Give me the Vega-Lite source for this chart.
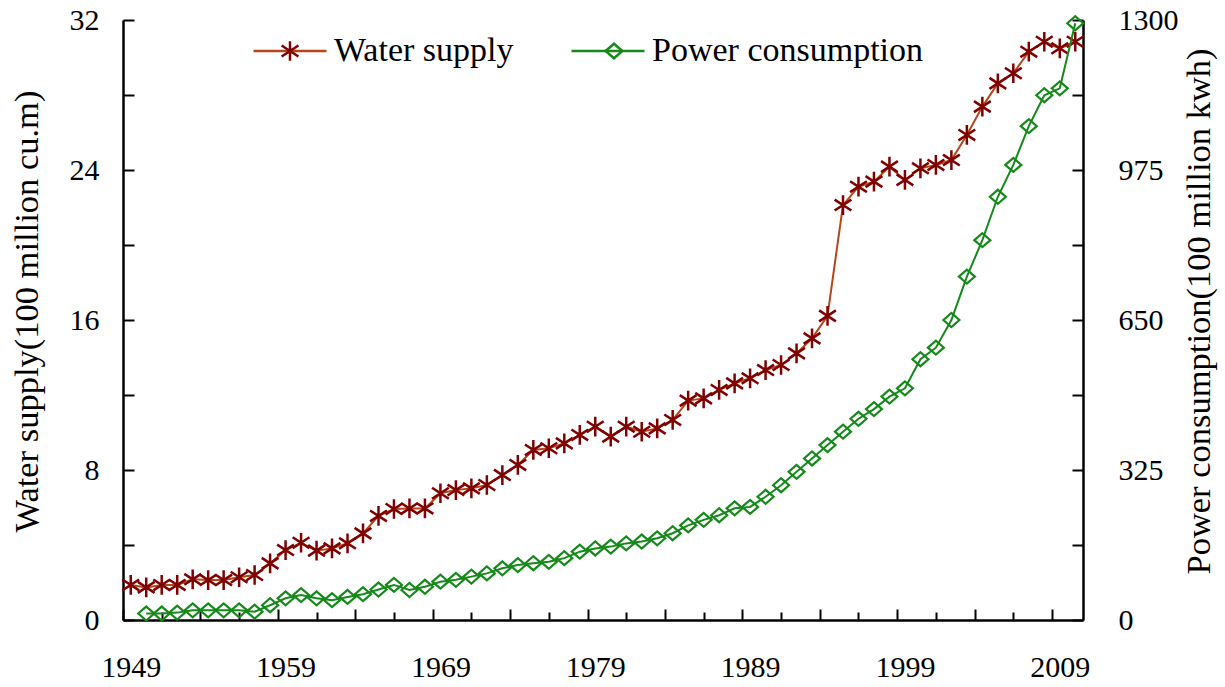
{
"$schema": "https://vega.github.io/schema/vega-lite/v6.json",
"width": 960, "height": 600,
"autosize": {"type": "none"},
"padding": {"left": 123, "top": 20, "right": 142, "bottom": 67},
"background": "white",
"config": {
  "view": {"stroke": null},
  "font": "Liberation Serif",
  "axis": {"grid": false, "labelFont": "Liberation Serif", "titleFont": "Liberation Serif", "labelColor": "black", "titleColor": "black", "titleFontWeight": "normal", "domainColor": "black", "tickColor": "black", "domainWidth": 2.5, "tickWidth": 2, "labelOverlap": false, "labelFlush": false, "labelBound": false},
  "legend": {"labelFont": "Liberation Serif", "labelColor": "black"}
},
"datasets": {
  "water": [
    {"year":1949,"value":1.87},{"year":1950,"value":1.74},{"year":1951,"value":1.87},{"year":1952,"value":1.87},{"year":1953,"value":2.17},{"year":1954,"value":2.13},{"year":1955,"value":2.13},{"year":1956,"value":2.28},{"year":1957,"value":2.4},{"year":1958,"value":3.02},
    {"year":1959,"value":3.73},{"year":1960,"value":4.12},{"year":1961,"value":3.7},{"year":1962,"value":3.82},{"year":1963,"value":4.09},{"year":1964,"value":4.62},{"year":1965,"value":5.55},{"year":1966,"value":5.92},{"year":1967,"value":5.95},{"year":1968,"value":5.95},
    {"year":1969,"value":6.76},{"year":1970,"value":6.93},{"year":1971,"value":7.02},{"year":1972,"value":7.2},{"year":1973,"value":7.73},{"year":1974,"value":8.27},{"year":1975,"value":9.07},{"year":1976,"value":9.16},{"year":1977,"value":9.42},{"year":1978,"value":9.87},
    {"year":1979,"value":10.31},{"year":1980,"value":9.78},{"year":1981,"value":10.31},{"year":1982,"value":10.04},{"year":1983,"value":10.22},{"year":1984,"value":10.67},{"year":1985,"value":11.7},{"year":1986,"value":11.82},{"year":1987,"value":12.27},{"year":1988,"value":12.62},
    {"year":1989,"value":12.89},{"year":1990,"value":13.33},{"year":1991,"value":13.6},{"year":1992,"value":14.22},{"year":1993,"value":15.02},{"year":1994,"value":16.22},{"year":1995,"value":22.13},{"year":1996,"value":23.11},{"year":1997,"value":23.38},{"year":1998,"value":24.18},
    {"year":1999,"value":23.47},{"year":2000,"value":24.09},{"year":2001,"value":24.27},{"year":2002,"value":24.53},{"year":2003,"value":25.87},{"year":2004,"value":27.38},{"year":2005,"value":28.62},{"year":2006,"value":29.16},{"year":2007,"value":30.31},{"year":2008,"value":30.84},
    {"year":2009,"value":30.49},{"year":2010,"value":30.84}
  ],
  "power": [
    {"year":1950,"value":14},{"year":1951,"value":14},{"year":1952,"value":16},{"year":1953,"value":21},{"year":1954,"value":21},{"year":1955,"value":21},{"year":1956,"value":21},{"year":1957,"value":18},{"year":1958,"value":32},
    {"year":1959,"value":47},{"year":1960,"value":54},{"year":1961,"value":47},{"year":1962,"value":43},{"year":1963,"value":50},{"year":1964,"value":56},{"year":1965,"value":66},{"year":1966,"value":76},{"year":1967,"value":65},{"year":1968,"value":72},
    {"year":1969,"value":83},{"year":1970,"value":87},{"year":1971,"value":94},{"year":1972,"value":101},{"year":1973,"value":112},{"year":1974,"value":119},{"year":1975,"value":123},{"year":1976,"value":126},{"year":1977,"value":134},{"year":1978,"value":148},
    {"year":1979,"value":155},{"year":1980,"value":159},{"year":1981,"value":166},{"year":1982,"value":170},{"year":1983,"value":177},{"year":1984,"value":188},{"year":1985,"value":205},{"year":1986,"value":217},{"year":1987,"value":227},{"year":1988,"value":242},
    {"year":1989,"value":245},{"year":1990,"value":267},{"year":1991,"value":292},{"year":1992,"value":321},{"year":1993,"value":350},{"year":1994,"value":379},{"year":1995,"value":408},{"year":1996,"value":436},{"year":1997,"value":457},{"year":1998,"value":484},
    {"year":1999,"value":502},{"year":2000,"value":565},{"year":2001,"value":590},{"year":2002,"value":650},{"year":2003,"value":744},{"year":2004,"value":823},{"year":2005,"value":917},{"year":2006,"value":986},{"year":2007,"value":1070},{"year":2008,"value":1137},
    {"year":2009,"value":1152},{"year":2010,"value":1293}
  ]
},
"encoding": {
  "x": {"field": "year", "type": "quantitative",
    "scale": {"domain": [1948.5, 2010.5], "nice": false, "zero": false},
    "axis": {
      "values": [1948.5,1951,1953.5,1956,1958.5,1961,1963.5,1966,1968.5,1971,1973.5,1976,1978.5,1981,1983.5,1986,1988.5,1991,1993.5,1996,1998.5,2001,2003.5,2006,2008.5],
      "labelExpr": "(datum.value - 1948.5) % 10 === 0 ? format(datum.value + 0.5, 'd') : ''",
      "tickSize": {"condition": {"test": "(datum.value - 1948.5) % 5 === 0", "value": -11}, "value": -8},
      "labelPadding": 43, "labelOffset": 7.75, "labelFontSize": 30, "title": null
    }
  }
},
"layer": [
  {
    "data": {"name": "water"},
    "encoding": {
      "y": {"field": "value", "type": "quantitative", "scale": {"domain": [0, 32], "nice": false},
        "axis": {"values": [0,4,8,12,16,20,24,28,32], "labelExpr": "datum.value % 8 === 0 ? datum.label : ''", "tickSize": -11, "labelPadding": 35, "labelFontSize": 30,
          "title": "Water supply(100 million cu.m)", "titleFontSize": 34.5, "titlePadding": 25, "titleY": 291}}
    },
    "layer": [
      {"mark": {"type": "line", "strokeWidth": 2},
       "encoding": {"color": {"datum": "Water supply", "type": "nominal",
         "scale": {"domain": ["Water supply", "Power consumption"], "range": ["#B5461A", "#15891A"]},
         "legend": {"orient": "none", "legendX": 129, "legendY": -7, "direction": "horizontal", "title": null, "symbolType": "M-1,0H1", "symbolSize": 5329, "symbolStrokeWidth": 2.5, "labelFontSize": 34, "labelOffset": 6, "labelLimit": 600, "columnPadding": 52, "padding": 0}}}},
      {"mark": {"type": "point", "size": 5329, "strokeWidth": 2.5, "filled": false, "opacity": 1},
       "encoding": {
         "stroke": {"datum": "water", "type": "nominal",
           "scale": {"domain": ["water", "power"], "range": ["#800000", "#15891A"]},
           "legend": {"orient": "none", "legendX": 129, "legendY": -7, "direction": "horizontal", "title": null, "symbolSize": 5329, "symbolStrokeWidth": 2.5, "labelFontSize": 34, "labelOffset": 6, "labelLimit": 600, "columnPadding": 242, "padding": 0,
             "labelExpr": "''"}},
         "shape": {"datum": "water", "type": "nominal",
           "scale": {"domain": ["water", "power"], "range": ["M0,-0.27V0.27M-0.23,-0.15L0.23,0.15M-0.23,0.15L0.23,-0.15", "M-0.23,0L0,-0.2L0.23,0L0,0.2Z"]},
           "legend": {"orient": "none", "legendX": 129, "legendY": -7, "direction": "horizontal", "title": null, "symbolSize": 5329, "symbolStrokeWidth": 2.5, "labelFontSize": 34, "labelOffset": 6, "labelLimit": 600, "columnPadding": 242, "padding": 0,
             "labelExpr": "''"}}
       }}
    ]
  },
  {
    "data": {"name": "power"},
    "encoding": {
      "y": {"field": "value", "type": "quantitative", "scale": {"domain": [0, 1300], "nice": false},
        "axis": {"orient": "right", "values": [0,162.5,325,487.5,650,812.5,975,1137.5,1300], "format": "d", "labelExpr": "datum.value % 325 === 0 ? datum.label : ''", "tickSize": -11, "labelPadding": 46, "labelFontSize": 30,
          "title": "Power consumption(100 million kwh)", "titleFontSize": 34.5, "titleAngle": 270, "titleBaseline": "top", "titlePadding": 4, "titleY": 291}}
    },
    "layer": [
      {"mark": {"type": "line", "strokeWidth": 2},
       "encoding": {"color": {"datum": "Power consumption", "type": "nominal",
         "scale": {"domain": ["Water supply", "Power consumption"], "range": ["#B5461A", "#15891A"]},
         "legend": {"orient": "none", "legendX": 129, "legendY": -7, "direction": "horizontal", "title": null, "symbolType": "M-1,0H1", "symbolSize": 5329, "symbolStrokeWidth": 2.5, "labelFontSize": 34, "labelOffset": 6, "labelLimit": 600, "columnPadding": 52, "padding": 0}}}},
      {"mark": {"type": "point", "size": 4840, "strokeWidth": 2.2, "filled": false, "opacity": 1},
       "encoding": {
         "stroke": {"datum": "power", "type": "nominal",
           "scale": {"domain": ["water", "power"], "range": ["#800000", "#15891A"]},
           "legend": {"orient": "none", "legendX": 129, "legendY": -7, "direction": "horizontal", "title": null, "symbolSize": 5329, "symbolStrokeWidth": 2.5, "labelFontSize": 34, "labelOffset": 6, "labelLimit": 600, "columnPadding": 242, "padding": 0,
             "labelExpr": "''"}},
         "shape": {"datum": "power", "type": "nominal",
           "scale": {"domain": ["water", "power"], "range": ["M0,-0.27V0.27M-0.23,-0.15L0.23,0.15M-0.23,0.15L0.23,-0.15", "M-0.23,0L0,-0.2L0.23,0L0,0.2Z"]},
           "legend": {"orient": "none", "legendX": 129, "legendY": -7, "direction": "horizontal", "title": null, "symbolSize": 5329, "symbolStrokeWidth": 2.5, "labelFontSize": 34, "labelOffset": 6, "labelLimit": 600, "columnPadding": 242, "padding": 0,
             "labelExpr": "''"}}
       }}
    ]
  }
],
"resolve": {"scale": {"y": "independent"}}
}
